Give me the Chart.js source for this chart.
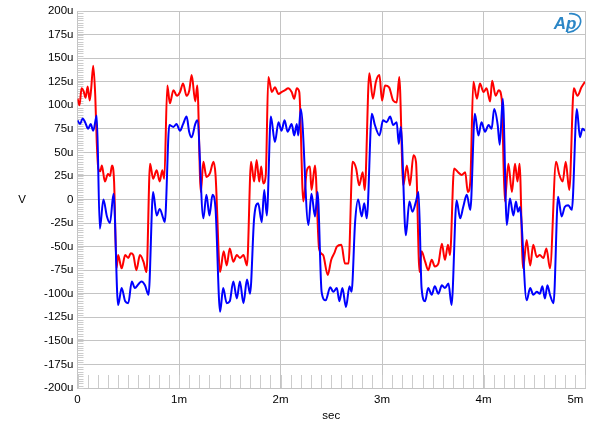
<!DOCTYPE html>
<html>
<head>
<meta charset="utf-8">
<script src="https://cdn.jsdelivr.net/npm/chart.js@4.4.0/dist/chart.umd.min.js"></script>
<style>
  html, body { margin: 0; padding: 0; background: #fff; }
  canvas { display: block; }
</style>
</head>
<body>
<canvas id="chart" width="600" height="434"></canvas>
<script>
// time in ms ("m"), voltage in uV ("u")
const redTime = [0.00,0.02,0.04,0.06,0.08,0.10,0.12,0.135,0.155,0.175,0.19,0.205,0.225,0.24,0.27,0.30,0.32,0.34,0.36,
  0.385,0.40,0.435,0.47,0.50,0.525,0.55,0.58,0.615,0.65,0.68,0.715,0.745,0.78,0.81,0.835,0.855,
  0.885,0.91,0.945,0.98,1.01,1.04,1.075,1.10,1.125,1.16,1.18,1.215,1.24,1.27,1.305,1.34,1.36,
  1.405,1.44,1.47,1.50,1.535,1.57,1.60,1.635,1.67,1.71,1.74,1.765,1.79,1.81,1.83,1.855,
  1.88,1.915,1.945,1.98,2.01,2.045,2.075,2.11,2.135,2.16,2.185,2.225,2.26,2.29,2.305,2.34,
  2.38,2.42,2.465,2.50,2.53,2.555,2.60,2.635,2.67,2.71,2.745,2.775,2.81,2.83,
  2.875,2.91,2.94,2.975,3.00,3.03,3.07,3.11,3.145,3.17,3.21,3.245,3.275,3.31,3.335,
  3.37,3.39,3.425,3.455,3.49,3.52,3.555,3.59,3.62,3.65,3.67,3.71,3.75,3.785,3.82,3.845,3.87,
  3.90,3.935,3.965,4.00,4.03,4.065,4.085,4.12,4.15,4.18,4.21,4.245,4.28,4.31,4.335,4.355,
  4.39,4.425,4.46,4.49,4.525,4.555,4.59,4.62,4.655,4.715,4.745,4.78,4.81,4.845,
  4.89,4.925,4.965,5.00];
const redVolts = [107,100,118,115,108,120,105,118,142,110,60,33,30,36,19,27,25,36,20,
  -73,-59,-73,-59,-62,-57,-59,-75,-59,-66,-77,38,22,31,19,31,22,
  121,102,116,110,114,123,110,115,132,104,121,8,40,24,28,40,26,
  -77,-55,-70,-52,-66,-59,-62,-59,-70,40,19,42,19,35,17,26,
  130,114,119,112,114,116,118,114,107,118,114,-2,31,35,10,36,
  -52,-59,-80,-64,-57,-50,-48,-68,-68,40,33,15,29,10,
  134,107,125,132,105,121,119,105,103,130,15,36,15,47,40,
  -77,-55,-66,-75,-64,-71,-68,-47,-64,-48,-59,33,29,26,29,8,19,
  125,107,123,114,118,104,126,110,116,106,-2,38,8,38,19,38,
  -73,-43,-70,-48,-61,-59,-62,-52,-73,40,27,19,40,10,
  118,110,119,125];

const blueTime = [0.00,0.025,0.05,0.075,0.105,0.13,0.155,0.19,0.22,0.255,0.29,0.32,0.355,
  0.40,0.435,0.47,0.50,0.535,0.565,0.60,0.63,0.665,0.70,0.745,0.78,0.81,0.845,0.86,
  0.905,0.945,0.975,1.01,1.04,1.075,1.10,1.125,1.16,1.18,1.24,1.27,1.30,1.33,1.36,
  1.405,1.435,1.47,1.50,1.535,1.57,1.60,1.635,1.67,1.70,1.74,1.78,1.815,1.84,1.865,
  1.905,1.945,1.98,2.01,2.04,2.07,2.11,2.135,2.16,2.175,2.20,2.275,2.305,2.34,2.365,
  2.405,2.445,2.49,2.52,2.555,2.58,2.61,2.645,2.68,2.70,2.735,2.765,2.80,2.825,2.85,
  2.90,2.93,2.975,3.01,3.045,3.08,3.11,3.145,3.165,3.185,3.235,3.27,3.30,3.335,3.36,
  3.39,3.425,3.455,3.49,3.52,3.555,3.59,3.62,3.655,3.685,3.735,3.77,3.80,3.835,3.87,
  3.915,3.95,3.98,4.015,4.05,4.08,4.105,4.14,4.16,4.19,4.23,4.26,4.295,4.32,4.34,4.36,4.37,
  4.425,4.46,4.49,4.525,4.555,4.58,4.605,4.63,4.655,4.69,4.735,4.77,4.80,4.835,4.87,
  4.92,4.95,4.975,5.00];
const blueVolts = [84,80,86,82,75,80,73,89,-31,0,-18,-25,6,
  -112,-94,-108,-110,-87,-94,-90,-87,-91,-101,8,-17,-10,-20,-24,
  79,77,80,73,80,88,72,66,80,84,-20,5,-17,5,-10,
  -119,-94,-110,-108,-87,-105,-87,-110,-85,-100,-20,-4,-24,10,-17,
  88,61,82,73,84,72,80,68,80,68,96,-27,6,-18,8,
  -98,-107,-93,-98,-94,-108,-94,-114,-92,-98,-24,0,-18,-4,-20,
  91,79,68,84,82,88,79,82,59,77,-38,-2,-13,-2,8,
  -94,-108,-94,-101,-92,-100,-91,-94,-89,-112,-1,-20,-8,5,-11,
  91,68,82,72,79,75,96,79,58,107,-27,1,-17,-2,-13,-8,-17,
  -107,-94,-101,-98,-100,-92,-105,-91,-101,-110,3,-18,-8,-6,-11,
  96,66,75,73];

const xMin = 0, xMax = 5, xStep = 1, xMinorStep = 0.1;
const yMin = -200, yMax = 200, yStep = 25, yMinorStep = 2.5;

const toPoints = (ts, vs) => ts.map((t, i) => ({ x: t, y: vs[i] }));

const FONT = 'Arial, "Liberation Sans", sans-serif';
const GRID = '#c4c4c4';

// minor ticks inside the plot, axis names and the AP logo
const decorations = {
  id: 'decorations',
  beforeDatasetsDraw(chart) {
    const ctx = chart.ctx, a = chart.chartArea;
    const xs = chart.scales.x, ys = chart.scales.y;
    ctx.save();
    ctx.strokeStyle = '#cccccc';
    ctx.lineWidth = 1;
    ctx.beginPath();
    for (let v = yMin; v <= yMax + 0.001; v += yMinorStep) {
      const py = Math.round(ys.getPixelForValue(v)) + 0.5;
      ctx.moveTo(a.left, py);
      ctx.lineTo(a.left + 6, py);
    }
    for (let t = xMin; t <= xMax + 0.001; t += xMinorStep) {
      const px = Math.round(xs.getPixelForValue(t)) + 0.5;
      ctx.moveTo(px, a.bottom);
      ctx.lineTo(px, a.bottom - 13);
    }
    ctx.stroke();
    ctx.restore();
  },
  afterDraw(chart) {
    const ctx = chart.ctx, a = chart.chartArea;
    ctx.save();
    ctx.fillStyle = '#000';
    ctx.font = '11.5px ' + FONT;
    ctx.textAlign = 'center';
    ctx.textBaseline = 'middle';
    ctx.fillText('V', 22, (a.top + a.bottom) / 2);
    ctx.fillText('sec', (a.left + a.right) / 2, 416);

    // logo
    ctx.strokeStyle = '#2b86c6';
    ctx.fillStyle = '#2b86c6';
    ctx.lineWidth = 1.6;
    ctx.beginPath();
    ctx.ellipse(569, 23, 12, 9, -0.35, -1.3, 2.0);
    ctx.stroke();
    ctx.font = 'italic bold 17px ' + FONT;
    ctx.fillText('Ap', 565, 24);
    ctx.restore();
  }
};

new Chart(document.getElementById('chart').getContext('2d'), {
  type: 'line',
  data: {
    datasets: [{
      label: 'Ch1',
      data: toPoints(redTime, redVolts),
      borderColor: '#ff0000',
      borderWidth: 2,
      pointRadius: 0,
      cubicInterpolationMode: 'monotone',
      order: 2
    }, {
      label: 'Ch2',
      data: toPoints(blueTime, blueVolts),
      borderColor: '#0000ff',
      borderWidth: 2,
      pointRadius: 0,
      cubicInterpolationMode: 'monotone',
      order: 1
    }]
  },
  options: {
    responsive: false,
    animation: false,
    devicePixelRatio: 1,
    layout: { padding: { top: 11, right: 15, left: 0, bottom: 0 } },
    plugins: { legend: { display: false }, tooltip: { enabled: false } },
    scales: {
      x: {
        type: 'linear',
        min: xMin,
        max: xMax,
        ticks: {
          stepSize: xStep,
          maxRotation: 0,
          padding: 5,
          color: '#000',
          font: { family: FONT, size: 11.5 },
          // last label sits flush with the right edge, as in the original
          callback: v => v === 0 ? '0' : (v === xMax ? v + 'm\u2007\u2007\u2007' : v + 'm')
        },
        grid: { color: GRID, drawTicks: false },
        border: { color: GRID },
        afterFit: s => { s.height = 46; s.paddingLeft = 0; s.paddingRight = 0; }
      },
      y: {
        min: yMin,
        max: yMax,
        ticks: {
          stepSize: yStep,
          padding: 4,
          color: '#000',
          font: { family: FONT, size: 11.5 },
          callback: v => v === 0 ? '0' : v + 'u'
        },
        grid: { color: GRID, drawTicks: false },
        border: { color: GRID },
        afterFit: s => { s.width = 77.5; }
      }
    }
  },
  plugins: [decorations]
});
</script>
</body>
</html>
